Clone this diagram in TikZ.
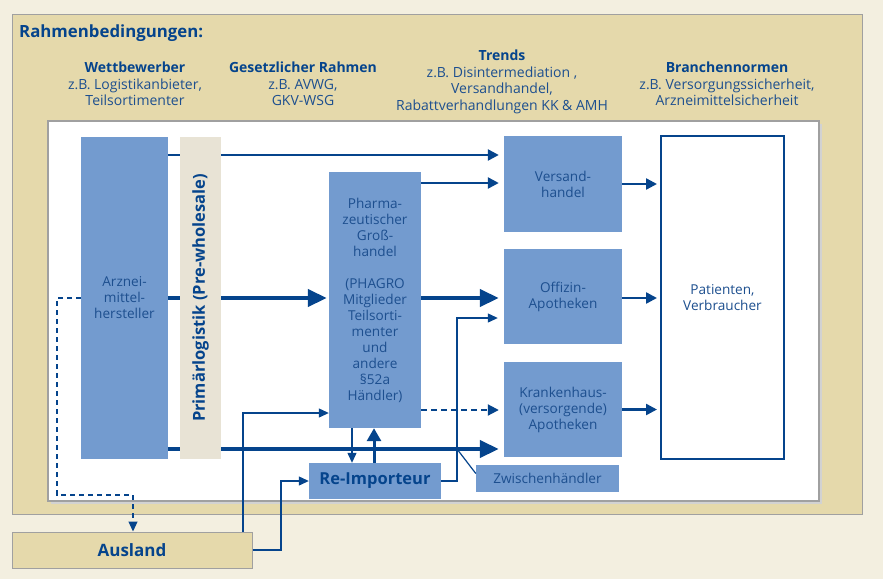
\documentclass[tikz,border=0pt]{standalone}
\usepackage{fontspec}
\setmainfont{Open Sans}
\usetikzlibrary{arrows.meta,calc}
\definecolor{bgcream}{HTML}{F3EFE0}
\definecolor{tanc}{HTML}{E5D9AB}
\definecolor{boxblue}{HTML}{739BCF}
\definecolor{dblue}{HTML}{05448C}
\definecolor{tblue}{HTML}{1D4F8F}
\definecolor{barc}{HTML}{E8E3D5}
\definecolor{grayb}{HTML}{A0A0A0}
\pgfdeclarelayer{back}
\pgfdeclarelayer{mid}
\pgfsetlayers{back,mid,main}
\tikzset{
  bx/.style={rectangle, fill=boxblue, inner sep=0pt, text=tblue, align=center,
    font=\fontsize{13.6}{16}\selectfont},
  hd/.style={align=center, text=tblue, inner sep=0pt, font=\fontsize{14}{16.7}\selectfont},
  thinarr/.style={draw=dblue, line width=1.2pt, -{Triangle[length=10pt,width=9pt]}},
  medarr/.style={draw=dblue, line width=2.4pt, -{Triangle[length=11pt,width=11pt]}},
  thickarr/.style={draw=dblue, line width=4pt, -{Triangle[length=19pt,width=17pt]}},
}
\begin{document}
\begin{tikzpicture}[x=1pt,y=-1pt]
\useasboundingbox (0,0) rectangle (883,579);
\begin{pgfonlayer}{back}
\fill[bgcream] (0,0) rectangle (883,579);
\filldraw[fill=tanc, draw=grayb, line width=1pt] (12,14) rectangle (862,514);
\fill[gray!35] (51,124) rectangle (822,504);
\filldraw[fill=white, draw=grayb, line width=2.5pt] (48,121) rectangle (819,501);
\end{pgfonlayer}

% title and headings
\node[anchor=west, text=dblue, inner sep=0pt, font=\fontsize{16.8}{19}\bfseries] (title) at (19,33) {Rahmenbedingungen:};
\node[hd] (wb) at (135,84) {\textbf{\color{dblue}Wettbewerber}\\z.B. Logistikanbieter,\\Teilsortimenter};
\node[hd] (gr) at (303,84) {\textbf{\color{dblue}Gesetzlicher Rahmen}\\z.B. AVWG,\\GKV-WSG};
\node[hd] (tr) at (502,82) {\textbf{\color{dblue}Trends}\\z.B. Disintermediation ,\\Versandhandel,\\Rabattverhandlungen KK \& AMH};
\node[hd] (bn) at (727,84) {\textbf{\color{dblue}Branchennormen}\\z.B. Versorgungssicherheit,\\Arzneimittelsicherheit};

% boxes
\node[bx, minimum width=87, minimum height=322] (arz) at (124.5,298) {Arznei-\\mittel-\\hersteller};
\node[bx, fill=barc, minimum width=41, minimum height=322] (bar) at (200.5,298) {};
\node[rotate=90, text=dblue, font=\fontsize{16.5}{19}\bfseries] (barlab) at (bar.center) {Primärlogistik (Pre-wholesale)};
\node[bx, minimum width=92, minimum height=256] (gh) at (375,300) {Pharma-\\zeutischer\\Groß-\\handel\\[16pt](PHAGRO\\Mitglieder\\Teilsorti-\\menter\\und\\andere\\§52a\\Händler)};
\node[bx, minimum width=118, minimum height=96] (vers) at (563,184) {Versand-\\handel};
\node[bx, minimum width=118, minimum height=95] (off) at (563,296.5) {Offizin-\\Apotheken};
\node[bx, minimum width=118, minimum height=95] (kh) at (563,409.5) {Krankenhaus-\\(versorgende)\\Apotheken};
\node[bx, fill=white, draw=dblue, line width=2pt, minimum width=123, minimum height=323] (pat) at (722.5,297.5) {Patienten,\\Verbraucher};
\node[bx, minimum width=132, minimum height=36, text=dblue, font=\fontsize{16.5}{19}\bfseries] (reimp) at (375,481) {Re-Importeur};
\node[bx, minimum width=143, minimum height=27] (zw) at (547.5,478.5) {Zwischenhändler};
\node[bx, fill=tanc, draw=grayb, line width=1pt, minimum width=240, minimum height=36, text=dblue, font=\fontsize{17}{19}\bfseries] (aus) at (132,550) {Ausland};

% helper coordinates
\coordinate (c155) at (0,155);
\coordinate (c183) at (0,183);
\coordinate (c298) at (0,298);
\coordinate (c410) at (0,410);
\coordinate (c449) at (0,449);
\coordinate (rz) at (457,318);
\coordinate (ax) at (243,413);
\coordinate (rx) at (281,481);
\coordinate (dn) at (352,0);
\coordinate (up) at (374,0);
\coordinate (d1) at (57,298);
\coordinate (d2) at (57,495);
\coordinate (d3) at (133,495);
\coordinate (zk) at (457,449);

% long arrows behind the bar
\begin{pgfonlayer}{mid}
\draw[medarr, shorten >=5pt] (arz.east |- c155) -- (vers.west |- c155);
\draw[thickarr, shorten >=2pt] (arz.east |- c298) -- (gh.west |- c298);
\draw[thickarr, shorten >=5pt] (arz.east |- c449) -- (kh.west |- c449);
\draw[thinarr] (aus.north -| ax) -- (ax) -- (gh.west |- ax);
\end{pgfonlayer}

% other connectors
\draw[medarr, shorten >=5pt] (gh.east |- c183) -- (vers.west |- c183);
\draw[thickarr, shorten >=5pt] (gh.east |- c298) -- (off.west |- c298);
\draw[medarr, line width=2pt, dash pattern=on 6pt off 4pt, shorten >=5pt] (gh.east |- c410) -- (kh.west |- c410);
\draw[medarr, shorten >=3pt] (vers.east) -- (pat.west |- vers.east);
\draw[medarr, shorten >=3pt] (off.east |- c298) -- (pat.west |- c298);
\draw[medarr, shorten >=3pt] (kh.east) -- (pat.west |- kh.east);
\draw[thinarr, shorten >=6pt] (reimp.east) -| (rz) -- (off.west |- rz);
\draw[thinarr] (aus.east) -| (rx) -- (reimp.west |- rx);
\draw[thinarr] (gh.south -| dn) -- (reimp.north -| dn);
\draw[draw=dblue, line width=3pt, -{Triangle[length=13pt,width=14pt]}] (reimp.north -| up) -- (gh.south -| up);
\draw[thinarr, dash pattern=on 5pt off 4pt] (arz.west |- d1) -- (d1) -- (d2) -- (d3) -- (aus.north -| d3);
\draw[dblue, line width=1.2pt] (zk) -- ($(zw.west)+(0,-5)$);
\end{tikzpicture}
\end{document}
